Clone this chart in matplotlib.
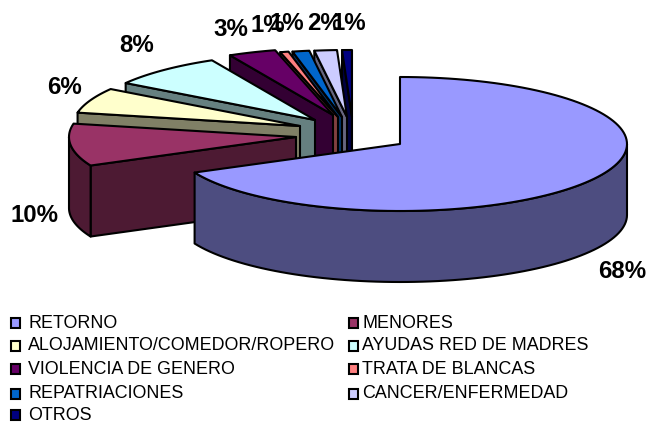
import numpy as np
import matplotlib
matplotlib.use('Agg')
import matplotlib.pyplot as plt
from matplotlib.patches import Polygon, Rectangle

plt.rcParams['font.family'] = ['Liberation Sans', 'DejaVu Sans']

# datos
categorias = ['RETORNO', 'MENORES', 'ALOJAMIENTO/COMEDOR/ROPERO', 'AYUDAS RED DE MADRES',
              'VIOLENCIA DE GENERO', 'TRATA DE BLANCAS', 'REPATRIACIONES',
              'CANCER/ENFERMEDAD', 'OTROS']
valores = [68.0, 10.2, 6.1, 8.2, 3.4, 0.6, 1.2, 1.6, 0.7]

# colores
tapa = ['#9999FF', '#993366', '#FFFFCC', '#CCFFFF', '#660066', '#FF8080', '#0066CC', '#CCCCFF', '#000080']
pared = ['#4D4D80', '#4D1A33', '#808066', '#668080', '#330033', '#804040', '#003366', '#666680', '#000040']

# centro de cada porcion (pixeles), ya separada
cx = [400, 296, 300, 315, 333, 338, 342, 347, 352]
cy = [144, 137, 126, 120, 115, 117, 117, 117, 117]
pos_etq = [(622, 271), (35, 216), (65, 87), (137, 46), (231, 29),
           (268, 25), (287, 24), (324, 24), (349, 24)]
A = 227
B = 67
H = 71

fig = plt.figure(figsize=(6.46, 4.23), dpi=100)
ax = fig.add_axes([0, 0, 1, 1])
ax.set_xlim(0, 646)
ax.set_ylim(423, 0)
ax.axis('off')


def punto(x0, y0, ang):
    # angulo en grados, horario desde las 12
    t = np.radians(ang)
    return x0 + A * np.sin(t), y0 - B * np.cos(t)


acum = np.cumsum([0] + valores) * 3.6
lw = 1.5

# de atras hacia adelante
for i in [8, 7, 6, 5, 4, 3, 2, 1, 0]:
    a0, a1 = acum[i], acum[i + 1]
    x0, y0 = cx[i], cy[i]
    # pared del corte
    if i > 0:
        px, py = punto(x0, y0, a0)
        ax.add_patch(Polygon([(x0, y0), (px, py), (px, py + H), (x0, y0 + H)],
                             fc=pared[i], ec='black', lw=lw, joinstyle='round'))
    # pared exterior
    b0, b1 = max(a0, 90), min(a1, 270)
    if b1 > b0:
        ang = np.linspace(b0, b1, 80)
        px, py = punto(x0, y0, ang)
        xs = np.r_[px, px[::-1]]
        ys = np.r_[py, py[::-1] + H]
        ax.add_patch(Polygon(np.c_[xs, ys], fc=pared[i], ec='black', lw=lw, joinstyle='round'))
    # tapa
    ang = np.linspace(a0, a1, 120)
    px, py = punto(x0, y0, ang)
    ax.add_patch(Polygon(np.c_[np.r_[x0, px], np.r_[y0, py]], fc=tapa[i], ec='black',
                         lw=lw, joinstyle='round'))

# etiquetas
for v, (x, y) in zip(valores, pos_etq):
    ax.text(x, y, '%d%%' % round(v), fontsize=17.3, fontweight='bold', ha='center', va='center')

# leyenda
filas = [323, 346, 369, 394, 415]
for i, nombre in enumerate(categorias):
    fila = filas[i // 2]
    x = 11 if i % 2 == 0 else 349
    tx = 28 if i % 2 == 0 else 362
    ax.add_patch(Rectangle((x, fila - 5), 9, 10, fc=tapa[i], ec='black', lw=1.5))
    ax.text(tx, fila, nombre, fontsize=12.9, ha='left', va='center')

fig.savefig('out.png', dpi=100)
